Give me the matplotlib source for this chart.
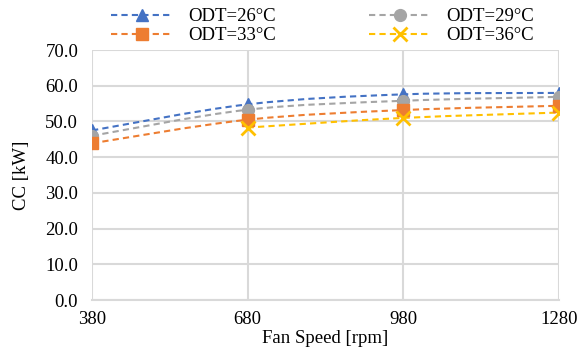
import numpy as np
import matplotlib.pyplot as plt
from matplotlib.path import Path
from matplotlib.patches import PathPatch
from matplotlib.lines import Line2D

plt.rcParams['font.family'] = ['Liberation Serif', 'DejaVu Serif']

# Data
fan_speed = [380, 680, 980, 1280]
cc_26 = [47.5, 54.8, 57.6, 58.0]
cc_29 = [46.0, 53.3, 55.8, 56.9]
cc_33 = [43.9, 50.5, 53.2, 54.4]
cc_36 = [np.nan, 48.3, 51.0, 52.5]

labels = ['ODT=26°C', 'ODT=29°C', 'ODT=33°C', 'ODT=36°C']
colors = ['#4472C4', '#A5A5A5', '#ED7D31', '#FFC000']
markers = ['^', 'o', 's', 'x']
series = [cc_26, cc_29, cc_33, cc_36]

dash = (0, (3, 2))
fs = 13.5


def smooth_path(x, y):
    # Catmull-Rom style bezier through the points (like Excel smoothed lines)
    pts = np.array([(a, b) for a, b in zip(x, y) if not np.isnan(b)], dtype=float)
    verts = [pts[0]]
    codes = [Path.MOVETO]
    n = len(pts)
    for i in range(n - 1):
        p0 = pts[i - 1] if i > 0 else pts[i]
        p1 = pts[i]
        p2 = pts[i + 1]
        p3 = pts[i + 2] if i + 2 < n else pts[i + 1]
        c1 = p1 + (p2 - p0) / 6.0
        c2 = p2 - (p3 - p1) / 6.0
        verts += [c1, c2, p2]
        codes += [Path.CURVE4] * 3
    return Path(verts, codes)


def msize(m):
    return 9.5 if m == 'x' else 8.5


fig = plt.figure(figsize=(5.79, 3.54), dpi=100)
ax = fig.add_axes([0.159, 0.1525, 0.806, 0.706])

for yv, c, m, lab in zip(series, colors, markers, labels):
    patch = PathPatch(smooth_path(fan_speed, yv), facecolor='none', edgecolor=c,
                      lw=1.5, linestyle=dash, zorder=3)
    ax.add_patch(patch)
    ax.plot(fan_speed, yv, linestyle='none', marker=m, color=c, markersize=msize(m),
            markeredgewidth=2.0 if m == 'x' else 1, zorder=4)

ax.set_xlim(380, 1280)
ax.set_ylim(0, 70)
ax.set_xticks(fan_speed)
ax.set_yticks(np.arange(0, 71, 10))
ax.set_yticklabels([f'{v:.1f}' for v in np.arange(0, 71, 10)])
ax.grid(True, color='#D9D9D9', lw=1.5)
ax.set_axisbelow(True)
for s in ax.spines.values():
    s.set_visible(False)
ax.spines['bottom'].set_visible(True)
ax.spines['bottom'].set_color('#D9D9D9')
ax.spines['bottom'].set_linewidth(1.5)
ax.tick_params(length=0, labelsize=fs)
ax.tick_params(axis='y', pad=10)
ax.tick_params(axis='x', pad=8)
ax.set_xlabel('Fan Speed [rpm]', fontsize=fs, labelpad=1)
ax.set_ylabel('CC [kW]', fontsize=fs, labelpad=11)

handles = [Line2D([], [], color=c, linestyle=dash, lw=1.5, marker=m,
                  markersize=msize(m), markeredgewidth=2.0 if m == 'x' else 1)
           for c, m in zip(colors, markers)]
order = [0, 2, 1, 3]
fig.legend([handles[i] for i in order], [labels[i] for i in order],
           loc='upper center', bbox_to_anchor=(0.557, 1.025), ncol=2, frameon=False,
           fontsize=fs, handlelength=3.3, handletextpad=0.8, columnspacing=5.0,
           labelspacing=0.1)

fig.savefig('out.png', dpi=100)
